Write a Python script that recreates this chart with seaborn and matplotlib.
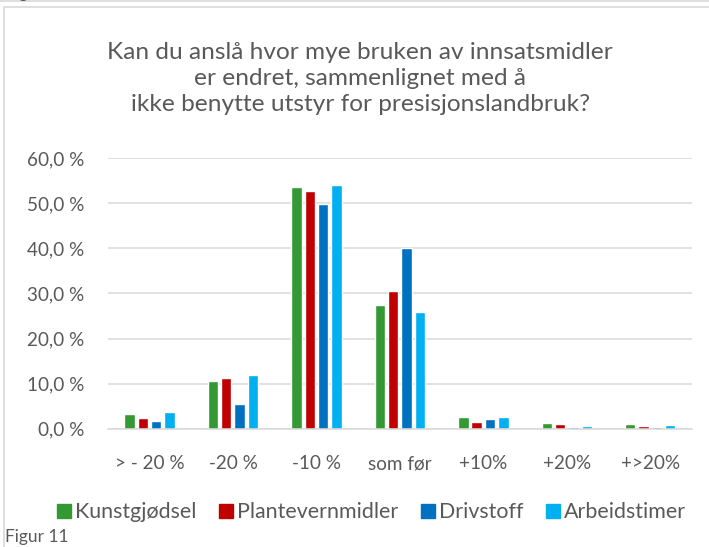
import pandas as pd
import matplotlib
matplotlib.use("Agg")
import matplotlib.pyplot as plt
import seaborn as sns
from matplotlib.patches import Rectangle
from matplotlib.lines import Line2D

# ----------------------------
# Data
# ----------------------------
categories = ["> - 20 %", "-20 %", "-10 %", "som før", "+10%", "+20%", "+>20%"]
series = ["Kunstgjødsel", "Plantevernmidler", "Drivstoff", "Arbeidstimer"]
kunstgjodsel = [3.3, 10.5, 53.6, 27.5, 2.6, 1.3, 1.0]
plantevern = [2.4, 11.2, 52.7, 30.5, 1.6, 1.0, 0.7]
drivstoff = [1.7, 5.5, 49.9, 40.0, 2.1, 0.4, 0.3]
arbeidstimer = [3.7, 12.0, 54.1, 26.0, 2.6, 0.6, 0.8]
colors = ["#339933", "#C00000", "#0070C0", "#00B0F0"]

rows = []
for name, vals in zip(series, [kunstgjodsel, plantevern, drivstoff, arbeidstimer]):
    for cat, v in zip(categories, vals):
        rows.append({"kategori": cat, "serie": name, "andel": v})
df = pd.DataFrame(rows)

# ----------------------------
# Plot
# ----------------------------
sns.set_style("white")
plt.rcParams["font.family"] = ["Lato", "DejaVu Sans"]
text_col = "#595959"

fig = plt.figure(figsize=(7.09, 5.47), dpi=100)
ax = fig.add_axes([0.152, 0.216, 0.824, 0.495])

sns.barplot(data=df, x="kategori", y="andel", hue="serie", order=categories,
            hue_order=series, palette=colors, width=0.64, gap=0.22,
            saturation=1, legend=False, ax=ax)

ax.set_ylim(0, 60)
ax.set_yticks(range(0, 61, 10))
ax.set_yticklabels([f"{t},0 %" for t in range(0, 61, 10)])
ax.yaxis.grid(True, color="#D9D9D9", linewidth=1.1)
ax.set_axisbelow(True)
for s in ["top", "right", "left"]:
    ax.spines[s].set_visible(False)
ax.spines["bottom"].set_color("#D9D9D9")
ax.spines["bottom"].set_linewidth(1.1)
ax.tick_params(axis="both", length=0, labelsize=13.6, colors=text_col)
ax.tick_params(axis="x", pad=19)
ax.tick_params(axis="y", pad=17)
ax.set_xlabel("")
ax.set_ylabel("")
ax.set_xlim(-0.5, len(categories) - 0.5)

fig.text(0.508, 0.857,
         "Kan du anslå hvor mye bruken av innsatsmidler\ner endret, sammenlignet med å\nikke benytte utstyr for presisjonslandbruk?",
         ha="center", va="center", fontsize=17.6, color=text_col, linespacing=1.3)

handles = [Line2D([], [], marker="s", linestyle="", markersize=10, color=c) for c in colors]
fig.legend(handles, series, loc="center", bbox_to_anchor=(0.523, 0.064), ncol=4,
           frameon=False, fontsize=15.4, handletextpad=0.1, columnspacing=1.0,
           labelcolor=text_col, handlelength=0.8)

# chart frame and surrounding page captions
fig.patches.append(Rectangle((4 / 709, -0.1), 1.0, 1 - 7 / 547 + 0.1, transform=fig.transFigure,
                             fill=False, edgecolor="#D9D9D9", linewidth=1.2))
fig.add_artist(Line2D([0, 1], [1 - 1 / 547, 1 - 1 / 547], transform=fig.transFigure,
                      color="#D9D9D9", linewidth=1.2))
fig.text(0.007, 0.004, "Figur 11", fontsize=12.5, color=text_col, ha="left", va="bottom")
fig.text(0.007, 1.012, "Figur 10", fontsize=12.5, color=text_col, ha="left", va="center")

fig.savefig("out.png", dpi=100)
